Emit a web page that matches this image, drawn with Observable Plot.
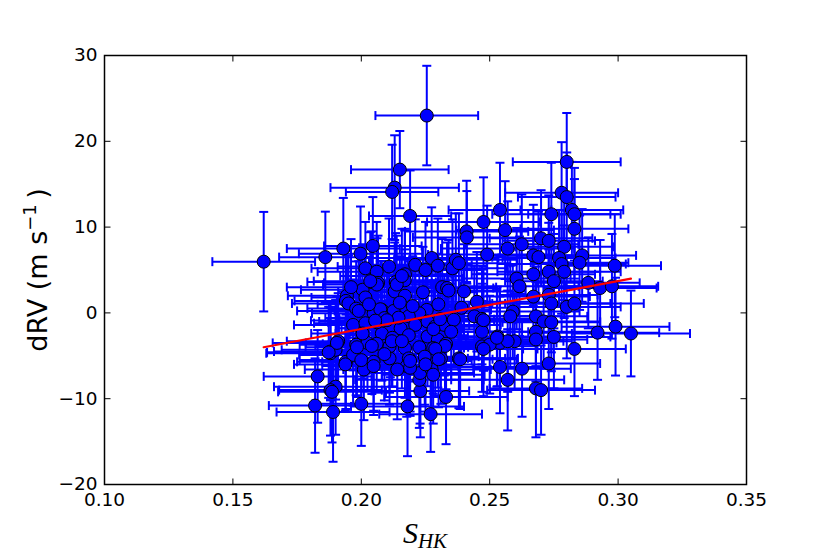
<!DOCTYPE html>
<html>
<head>
<meta charset="utf-8">
<script src="https://cdn.jsdelivr.net/npm/d3@7"></script>
<script src="https://cdn.jsdelivr.net/npm/@observablehq/plot@0.6"></script>
<style>
  html, body { margin: 0; padding: 0; background: white; }
</style>
</head>
<body>
<div id="chart"></div>
<script>
// S_HK values
const shk = [
  0.162, 0.2255, 0.215, 0.213, 0.212, 0.219, 0.280, 0.278, 0.280, 0.282,
  0.283, 0.283, 0.274, 0.254, 0.2476, 0.256, 0.241, 0.2411, 0.270, 0.273,
  0.2625, 0.257, 0.279, 0.286, 0.249, 0.267, 0.269, 0.277, 0.278, 0.285,
  0.2987, 0.279, 0.273, 0.267, 0.2605, 0.275, 0.2616, 0.2884, 0.293, 0.2976,
  0.240, 0.245, 0.259, 0.258, 0.267, 0.273, 0.274, 0.280, 0.283, 0.268,
  0.271, 0.274, 0.244, 0.247, 0.247, 0.268, 0.268, 0.275, 0.292, 0.299,
  0.305, 0.253, 0.254, 0.2597, 0.257, 0.247, 0.250, 0.283, 0.238, 0.254,
  0.2626, 0.257, 0.273, 0.268, 0.270, 0.233, 0.227, 0.218, 0.223, 0.2226,
  0.2229, 0.2274, 0.228, 0.200, 0.182, 0.189, 0.183, 0.190, 0.188, 0.201,
  0.194, 0.188, 0.188, 0.190, 0.191, 0.186, 0.193, 0.1997, 0.2045, 0.2016,
  0.206, 0.2108, 0.221, 0.2274, 0.2298, 0.2355, 0.2368, 0.238, 0.225, 0.217,
  0.204, 0.2065, 0.2134, 0.1944, 0.194, 0.195, 0.2005, 0.2016, 0.198, 0.213,
  0.217, 0.2169, 0.2315, 0.2334, 0.2255, 0.2226, 0.208, 0.2048, 0.2137, 0.2185,
  0.1968, 0.2016, 0.2056, 0.2113, 0.2153, 0.221, 0.2258, 0.2287, 0.2323, 0.208,
  0.2121, 0.2185, 0.2258, 0.2298, 0.233, 0.198, 0.2024, 0.206, 0.211, 0.217,
  0.2226, 0.228, 0.1968, 0.200, 0.2048, 0.211, 0.2185, 0.2247, 0.231, 0.2177,
  0.225, 0.2138, 0.2061, 0.199, 0.2074, 0.2126, 0.2476, 0.2061, 0.2281, 0.1905,
  0.1983, 0.2041, 0.2119, 0.2326, 0.2476, 0.2528, 0.1938, 0.2385, 0.219, 0.1873,
  0.1886, 0.203, 0.209, 0.215, 0.220, 0.196, 0.224, 0.230, 0.236, 0.239,
  0.209, 0.214, 0.235, 0.2005, 0.2035, 0.2158, 0.234, 0.2145, 0.210, 0.2307,
  0.2054, 0.2048, 0.2158, 0.219, 0.2288, 0.2301
];
// dRV values (m/s)
const drv = [
  5.97, 23.0, 16.7, 14.6, 14.1, 11.3, 17.6, 14.0, 13.5, 12.0,
  11.5, 9.8, 11.5, 12.0, 10.6, 9.65, 9.5, 8.8, 8.7, 8.4,
  8.0, 7.5, 7.7, 6.7, 6.8, 6.7, 6.5, 6.4, 5.7, 5.85,
  5.5, 4.8, 4.8, 4.5, 4.0, 3.7, 3.1, 3.5, 2.9, 3.1,
  2.5, 1.3, 0.15, -0.4, 1.9, 2.1, 1.1, 0.7, 1.1, -0.4,
  -1.0, -1.1, -0.4, -0.7, -2.2, -2.2, -3.1, -2.8, -2.3, -1.6,
  -2.4, -2.75, -3.5, -3.3, -3.3, -3.9, -3.7, -4.2, -5.3, -6.3,
  -6.5, -7.8, -5.9, -8.8, -9.0, -9.8, -11.8, -10.9, -9.1, -7.8,
  -7.0, -6.6, -7.2, -10.6, -10.8, -11.55, -7.4, -8.6, -9.0, -6.6,
  -5.7, -4.5, -4.7, -4.3, -3.3, 6.5, 7.5, 6.9, 7.8, 5.2,
  4.8, 5.4, 5.6, 6.4, 5.5, 5.2, 6.2, 5.8, 5.0, 4.5,
  3.6, 3.5, 3.6, 2.0, 1.4, 1.1, 2.7, 1.8, 0.5, 2.5,
  2.0, 3.8, 3.0, 2.9, 0.35, -0.05, 0.35, -0.05, -0.4, -0.4,
  -1.4, -1.2, -1.0, -1.8, -1.8, -1.4, -1.0, -1.6, -1.4, -2.4,
  -2.9, -2.6, -2.75, -3.1, -3.6, -3.7, -3.5, -3.6, -3.9, -4.1,
  -4.0, -4.1, -4.9, -5.5, -5.7, -5.3, -5.3, -5.1, -5.3, -6.2,
  -6.0, 3.3, 3.3, 0.23, 0.43, 0.23, -0.85, -1.1, -1.9, -3.5,
  -4.0, -3.85, -3.3, -3.85, -4.2, -2.9, -6.0, -5.4, -6.4, -4.6,
  -9.2, 1.0, -0.6, 1.2, 0.8, 3.0, 2.4, 1.0, -0.8, 0.6,
  -4.8, -6.6, -2.2, -2.4, 3.7, 4.3, 2.6, -0.55, -0.85, -0.73,
  -0.9, -6.2, -3.3, -5.6, -4.2, -5.4
];
// S_HK uncertainties
const shkErr = [
  0.020, 0.020, 0.019, 0.025, 0.018, 0.016, 0.021, 0.022, 0.019, 0.020,
  0.018, 0.021, 0.023, 0.020, 0.022, 0.019, 0.024, 0.021, 0.020, 0.018,
  0.022, 0.026, 0.019, 0.021, 0.023, 0.020, 0.018, 0.022, 0.025, 0.019,
  0.018, 0.022, 0.020, 0.024, 0.021, 0.019, 0.023, 0.020, 0.022, 0.018,
  0.024, 0.021, 0.026, 0.020, 0.022, 0.019, 0.023, 0.021, 0.027, 0.020,
  0.022, 0.019, 0.025, 0.021, 0.018, 0.023, 0.020, 0.022, 0.024, 0.021,
  0.023, 0.020, 0.022, 0.019, 0.025, 0.021, 0.018, 0.020, 0.023, 0.021,
  0.019, 0.022, 0.020, 0.018, 0.021, 0.024, 0.020, 0.022, 0.019, 0.025,
  0.021, 0.023, 0.020, 0.019, 0.018, 0.022, 0.021, 0.024, 0.020, 0.023,
  0.019, 0.022, 0.025, 0.021, 0.020, 0.018, 0.022, 0.024, 0.019, 0.021,
  0.023, 0.020, 0.022, 0.026, 0.019, 0.021, 0.024, 0.020, 0.022, 0.018,
  0.025, 0.021, 0.019, 0.023, 0.020, 0.022, 0.024, 0.021, 0.019, 0.022,
  0.020, 0.023, 0.021, 0.018, 0.025, 0.022, 0.020, 0.024, 0.019, 0.021,
  0.023, 0.020, 0.022, 0.019, 0.024, 0.021, 0.026, 0.020, 0.022, 0.018,
  0.021, 0.023, 0.020, 0.025, 0.019, 0.022, 0.024, 0.021, 0.020, 0.023,
  0.019, 0.022, 0.021, 0.024, 0.020, 0.018, 0.023, 0.021, 0.025, 0.020,
  0.022, 0.019, 0.021, 0.024, 0.020, 0.023, 0.022, 0.019, 0.021, 0.025,
  0.020, 0.022, 0.018, 0.024, 0.021, 0.023, 0.020, 0.022, 0.019, 0.024,
  0.021, 0.020, 0.023, 0.019, 0.022, 0.025, 0.021, 0.020, 0.024, 0.022,
  0.019, 0.021, 0.023, 0.020, 0.022, 0.024, 0.020, 0.023, 0.019, 0.021,
  0.025, 0.020, 0.022, 0.024, 0.019, 0.021
];
// dRV uncertainties (m/s)
const drvErr = [
  5.8, 5.8, 4.5, 6.1, 5.5, 5.3, 5.7, 5.9, 5.2, 5.6,
  5.4, 5.8, 6.0, 5.5, 5.2, 5.7, 5.9, 5.4, 5.6, 5.3,
  5.8, 5.5, 6.2, 5.4, 5.7, 5.9, 5.3, 5.6, 5.8, 5.5,
  6.0, 5.4, 5.7, 5.2, 5.9, 5.5, 5.8, 5.3, 5.6, 6.1,
  5.5, 5.8, 5.4, 5.9, 5.6, 5.3, 5.7, 6.0, 5.4, 5.8,
  5.5, 5.7, 5.9, 5.3, 5.6, 5.8, 5.4, 6.0, 5.5, 5.7,
  5.0, 5.8, 5.4, 5.6, 5.9, 5.3, 5.7, 5.5, 5.8, 5.4,
  5.6, 5.9, 5.3, 5.7, 5.2, 5.5, 4.4, 5.8, 5.4, 5.6,
  5.9, 5.3, 5.7, 4.9, 5.5, 5.8, 5.4, 5.6, 5.3, 5.9,
  5.5, 5.7, 5.4, 5.8, 5.6, 5.3, 5.9, 5.5, 5.7, 5.4,
  5.8, 5.6, 5.3, 5.9, 5.5, 5.7, 5.4, 5.8, 5.6, 5.3,
  5.9, 5.5, 5.7, 5.4, 5.8, 5.6, 5.3, 5.9, 5.5, 5.7,
  5.4, 5.8, 5.6, 5.3, 5.9, 5.5, 5.7, 5.4, 5.8, 5.6,
  5.3, 5.9, 5.5, 5.7, 5.4, 5.8, 5.6, 5.3, 5.9, 5.5,
  5.7, 5.4, 5.8, 5.6, 5.3, 5.9, 5.5, 5.7, 5.4, 5.8,
  5.6, 5.3, 5.9, 5.5, 5.7, 5.4, 5.8, 5.6, 5.3, 5.9,
  5.5, 5.7, 5.4, 5.8, 5.6, 5.3, 5.9, 5.5, 5.7, 5.4,
  5.8, 5.6, 5.3, 5.9, 5.5, 5.7, 5.4, 5.8, 5.6, 5.3,
  5.9, 5.5, 5.7, 5.4, 5.8, 5.6, 5.3, 5.9, 5.5, 5.7,
  5.4, 5.8, 5.6, 5.3, 5.7, 5.5, 5.9, 5.4, 5.6, 5.8,
  5.3, 5.7, 5.5, 5.9, 5.4, 5.6
];
// Linear fit (red line) end points
const fitX = [0.162, 0.305];
const fitY = [-4.0, 4.0];
// Axis ticks
const xTicks = [0.10, 0.15, 0.20, 0.25, 0.30, 0.35];
const yTicks = [-20, -10, 0, 10, 20, 30];

const n = Math.min(shk.length, drv.length, shkErr.length, drvErr.length);
const pts = [];
for (let i = 0; i < n; i++) pts.push({x: shk[i], y: drv[i], ex: shkErr[i], ey: drvErr[i]});
const fit = fitX.map((x, i) => ({x, y: fitY[i]}));

// custom symbols: caps & inward ticks
const capH = {draw(ctx, size) { const r = Math.sqrt(size / Math.PI); ctx.moveTo(-r, 0); ctx.lineTo(r, 0); }};
const capV = {draw(ctx, size) { const r = Math.sqrt(size / Math.PI); ctx.moveTo(0, -r); ctx.lineTo(0, r); }};
const tickUp = {draw(ctx, size) { const r = Math.sqrt(size / Math.PI); ctx.moveTo(0, 0); ctx.lineTo(0, -r); }};
const tickDown = {draw(ctx, size) { const r = Math.sqrt(size / Math.PI); ctx.moveTo(0, 0); ctx.lineTo(0, r); }};
const tickRight = {draw(ctx, size) { const r = Math.sqrt(size / Math.PI); ctx.moveTo(0, 0); ctx.lineTo(r, 0); }};
const tickLeft = {draw(ctx, size) { const r = Math.sqrt(size / Math.PI); ctx.moveTo(0, 0); ctx.lineTo(-r, 0); }};

const blue = "#0000ff";
const xMin = 0.10, xMax = 0.35, yMin = -20, yMax = 30;

const chart = Plot.plot({
  width: 830,
  height: 554,
  marginLeft: 104,
  marginRight: 84,
  marginTop: 55,
  marginBottom: 70,
  style: {fontFamily: "DejaVu Sans", fontSize: "18px", background: "white", color: "black", overflow: "visible"},
  x: {domain: [xMin, xMax]},
  y: {domain: [yMin, yMax]},
  marks: [
    Plot.link(pts, {x1: d => d.x - d.ex, x2: d => d.x + d.ex, y1: "y", y2: "y", stroke: blue, strokeWidth: 2}),
    Plot.link(pts, {x1: "x", x2: "x", y1: d => d.y - d.ey, y2: d => d.y + d.ey, stroke: blue, strokeWidth: 2}),
    Plot.dot(pts, {x: d => d.x - d.ex, y: "y", symbol: capV, r: 4.5, fill: "none", stroke: blue, strokeWidth: 2}),
    Plot.dot(pts, {x: d => d.x + d.ex, y: "y", symbol: capV, r: 4.5, fill: "none", stroke: blue, strokeWidth: 2}),
    Plot.dot(pts, {x: "x", y: d => d.y - d.ey, symbol: capH, r: 4.5, fill: "none", stroke: blue, strokeWidth: 2}),
    Plot.dot(pts, {x: "x", y: d => d.y + d.ey, symbol: capH, r: 4.5, fill: "none", stroke: blue, strokeWidth: 2}),
    Plot.dot(pts, {x: "x", y: "y", r: 6.5, fill: blue, stroke: "black", strokeWidth: 1}),
    Plot.line(fit, {x: "x", y: "y", stroke: "red", strokeWidth: 2.2}),
    Plot.dot(xTicks, {x: d => d, y: yMin, symbol: tickUp, r: 6, fill: "none", stroke: "black", strokeWidth: 1}),
    Plot.dot(xTicks, {x: d => d, y: yMax, symbol: tickDown, r: 6, fill: "none", stroke: "black", strokeWidth: 1}),
    Plot.dot(yTicks, {x: xMin, y: d => d, symbol: tickRight, r: 6, fill: "none", stroke: "black", strokeWidth: 1}),
    Plot.dot(yTicks, {x: xMax, y: d => d, symbol: tickLeft, r: 6, fill: "none", stroke: "black", strokeWidth: 1}),
    Plot.frame({stroke: "black", strokeWidth: 1.5}),
    Plot.axisX({ticks: xTicks, tickSize: 0, tickPadding: 8, fontSize: 18.5, tickFormat: d3.format(".2f"), label: null}),
    Plot.axisY({ticks: yTicks, tickSize: 0, tickPadding: 7, fontSize: 18.5, tickFormat: d3.format("d"), label: null})
  ]
});

const svg = d3.select(chart);
// y-axis label
const yl = svg.append("text")
  .attr("transform", "translate(47,270) rotate(-90)")
  .attr("text-anchor", "middle")
  .attr("font-family", "DejaVu Sans")
  .attr("font-size", 27)
  .attr("fill", "black");
yl.append("tspan").text("dRV (m s");
yl.append("tspan").attr("font-size", 18).attr("dy", -11).text("\u22121");
yl.append("tspan").attr("font-size", 27).attr("dy", 11).text("\u2009)");
// x-axis label
const xl = svg.append("text")
  .attr("x", 425)
  .attr("y", 543)
  .attr("text-anchor", "middle")
  .attr("font-family", "Liberation Serif")
  .attr("font-style", "italic")
  .attr("fill", "black");
xl.append("tspan").attr("font-size", 30).text("S");
xl.append("tspan").attr("font-size", 21).attr("dy", 5).text("HK");

document.getElementById("chart").appendChild(chart);
</script>
</body>
</html>
